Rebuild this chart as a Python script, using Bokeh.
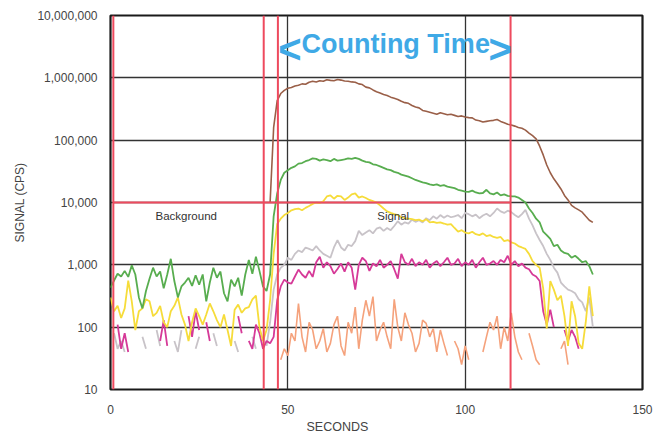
from bokeh.plotting import figure
from bokeh.models import Range1d, FixedTicker, NumeralTickFormatter, Label, Title
from bokeh.embed import file_html
from bokeh.resources import INLINE

nan = float("nan")

# ---------------- data ----------------
x_ticks = [0, 50, 100, 150]
y_ticks = [10, 100, 1000, 10000, 100000, 1000000, 10000000]

marker_seconds = [0.8, 43.2, 47.2, 112.8]   # red time markers
threshold_cps = 10000                       # red horizontal marker

brown_start = 45
brown_cps = [10000, 160000, 430000, 560000, 630000, 680000, 700000, 740000, 760000,
             800000, 790000, 850000, 880000, 860000, 900000, 880000, 930000, 910000, 900000,
             940000, 920000, 890000, 880000, 860000, 850000, 800000, 780000, 710000, 690000,
             640000, 600000, 570000, 540000, 520000, 490000, 470000, 450000, 420000, 400000,
             390000, 360000, 340000, 330000, 300000, 290000, 280000, 270000, 260000, 275000,
             265000, 255000, 260000, 250000, 240000, 245000, 235000, 230000, 228000, 210000,
             205000, 195000, 200000, 205000, 208000, 215000, 200000, 190000, 180000, 175000,
             168000, 160000, 155000, 145000, 130000, 118000, 105000, 80000, 58000, 40000,
             30000, 24000, 20000, 16500, 13000, 11000, 9000, 8200, 7600, 7000,
             6000, 5200, 4800]

green_start = 0
green_cps = [430, 560, 720, 650, 800, 640, 980, 700, 300, 200,
             380, 600, 900, 650, 780, 420, 700, 1250, 550, 300,
             450, 520, 620, 460, 680, 480, 700, 260, 520, 900,
             620, 780, 350, 260, 580, 450, 620, 320, 700, 1200,
             720, 1350, 800, 450, 380, 700, 6000, 14000, 23000, 30000,
             33000, 36000, 38000, 42000, 43000, 46000, 48000, 51000, 50000, 47000,
             49000, 48000, 46000, 50000, 47000, 48000, 49000, 51000, 50000, 52000,
             50000, 47000, 45000, 44000, 41000, 40000, 38000, 36000, 34000, 33000,
             31000, 30000, 28000, 27000, 26000, 24500, 23000, 22000, 21000, 20500,
             19500, 19000, 19500, 18500, 19000, 18000, 17500, 17000, 16000, 15500,
             15000, 14800, 15500, 14500, 14000, 14200, 16000, 14000, 13500, 14500,
             13000, 13500, 12800, 12600, 12500, 12000, 11000, 10000, 8000, 6800,
             5500, 4800, 3400, 3000, 2600, 2000, 2100, 1700, 1550, 1500,
             1300, 1400, 1250, 1100, 1150, 950, 700]

yellow_start = 0
yellow_cps = [300, 180, 220, 140, 200, 560, 260, 90, 180, 200,
              280, 260, 150, 170, 220, 120, 100, 180, 220, 300,
              160, 110, 60, 120, 200, 150, 110, 160, 240, 180,
              130, 100, 160, 90, 50, 190, 230, 170, 200, 210,
              280, 320, 100, 60, 90, 270, 1500, 4500, 5500, 6300,
              6800, 7500, 7800, 8000, 7500, 8200, 8800, 9500, 10000, 9800,
              10500, 12500, 13000, 11500, 12800, 12500, 11000, 12000, 13500, 14000,
              12000, 12500, 11800, 11000, 10500, 10000, 9000, 8000, 7200, 6800,
              6500, 6300, 5800, 5600, 5500, 5400, 5200, 5300, 5000, 5400,
              4800, 4900, 4700, 4800, 4600, 4400, 4500, 3900, 3400, 3600,
              3300, 3200, 3400, 3100, 3000, 3200, 2900, 3000, 2800, 2700,
              2800, 2400, 2500, 2300, 2200, 2000, 1900, 1800, 1500, 1150,
              1000, 900, 420, 95, 550, 400, 270, 320, 150, 50,
              260, 150, 55, 45, 120, 450, 150]

grey_start = 0
grey_cps = [nan, 80, 45, 60, 40, nan, nan, nan, nan, 70,
            45, nan, nan, 90, 50, nan, nan, nan, 60, 40,
            90, nan, nan, nan, 45, 70, nan, nan, nan, 80,
            50, nan, nan, nan, nan, 60, 40, nan, nan, nan,
            70, 45, nan, nan, 50, 120, 400, 700, 900, 1000,
            1300, 1200, 1500, 1700, 1600, 1900, 1800, 1700, 2000, 1700,
            1500, 1400, 1300, 1900, 2500, 1900, 1700, 2100, 2000, 2400,
            3500, 3000, 3300, 3600, 3200, 3800, 4000, 3500, 3900, 3600,
            4200, 5000, 4400, 4800, 4600, 5300, 4900, 5200, 4800, 5600,
            5200, 6000, 5500, 6300, 5700, 6200, 5800, 6000, 6300, 5600,
            6800, 6500, 6000, 6400, 5600, 6200, 6600, 6000, 6800, 8000,
            7200, 6800, 7400, 7000, 6300, 5800, 6500, 7600, 5500, 4300,
            3200, 2500, 2000, 1500, 1200, 900, 750, 520, 450, 400,
            380, 350, 280, 250, 180, 300, 100]

magenta_start = 0
magenta_cps = [nan, nan, 110, 45, 80, 40, nan, nan, nan, nan,
               nan, nan, nan, nan, 60, 130, 50, nan, nan, nan,
               nan, nan, 150, 70, 180, 90, nan, 120, 60, nan,
               nan, nan, nan, nan, nan, nan, 150, 80, nan, 60,
               45, 110, 80, 45, 60, 55, 70, 270, 450, 580,
               520, 500, 650, 840, 700, 620, 800, 640, 1100, 1350,
               900, 1100, 950, 720, 860, 1050, 780, 1100, 900, 400,
               1000, 1300, 1150, 800, 1050, 950, 1200, 900, 1000, 1150,
               850, 600, 1500, 1100, 1000, 1250, 950, 1100, 1000, 1200,
               900, 1050, 1150, 950, 1100, 1300, 1000, 1050, 1250, 950,
               1100, 1000, 1200, 900, 1100, 1300, 1000, 1050, 1150, 1000,
               1200, 1100, 1400, 1000, 1150, 950, 1050, 900, 850, 700,
               650, 550, 180, 110, 190, 100, nan, nan, 90, 60,
               90, 70, 45, nan, nan, nan, nan]

orange_start = 47
orange_cps = [nan, 30, 45, 35, 80, 60, 240, 70, 40, 120,
              90, 45, 60, 95, 40, 55, 110, 150, 50, 35,
              120, 80, 210, 45, 130, 270, 150, 310, 60, 90,
              120, 70, 45, 280, 100, 60, 170, 110, 80, 40,
              55, 130, 115, 70, 95, 40, 90, 55, 35, nan,
              60, 45, 25, 50, 30, nan, nan, nan, 40, 70,
              120, 90, 150, 45, 100, 60, 170, 70, 40, 30,
              nan, 80, 50, 30, 25, nan, nan, nan, nan, nan,
              45, 60, 25, nan]

series = [
    (orange_start, orange_cps, "#f5a27c", 1.6),
    (grey_start, grey_cps, "#c8c3c8", 1.8),
    (magenta_start, magenta_cps, "#d63a98", 1.8),
    (yellow_start, yellow_cps, "#f6dc3a", 1.8),
    (green_start, green_cps, "#58ad4f", 1.8),
    (brown_start, brown_cps, "#9a5f48", 1.6),
]

# ---------------- figure ----------------
p = figure(width=655, height=434, output_backend="svg", toolbar_location=None,
           x_range=Range1d(0, 150), y_range=Range1d(10, 1e7), y_axis_type="log",
           min_border_left=110, min_border_right=13, min_border_top=15,
           min_border_bottom=44, background_fill_color="white",
           border_fill_color="white")

p.xaxis.ticker = FixedTicker(ticks=x_ticks)
p.yaxis.ticker = FixedTicker(ticks=y_ticks)
p.xgrid.ticker = FixedTicker(ticks=x_ticks)
p.ygrid.ticker = FixedTicker(ticks=y_ticks)
p.yaxis.formatter = NumeralTickFormatter(format="0,0")

p.axis.axis_line_color = None
p.axis.major_tick_line_color = None
p.axis.minor_tick_line_color = None
p.axis.major_label_text_font = "Liberation Sans"
p.axis.major_label_text_font_size = "12px"
p.axis.major_label_text_color = "#444444"
p.xaxis.major_label_standoff = 9
p.yaxis.major_label_standoff = 7

p.yaxis.axis_label = "SIGNAL (CPS)"
p.yaxis.axis_label_text_font = "Liberation Sans"
p.yaxis.axis_label_text_font_size = "12px"
p.yaxis.axis_label_text_font_style = "normal"
p.yaxis.axis_label_text_color = "#444444"
p.yaxis.axis_label_standoff = 7

p.grid.grid_line_color = "#333333"
p.grid.grid_line_width = 1.3
p.outline_line_color = "#1a1a1a"
p.outline_line_width = 2.2

for start, vals, color, lw in series:
    xs = list(range(start, start + len(vals)))
    p.line(xs, vals, line_color=color, line_width=lw)

red = "#ee4a5e"
n = len(marker_seconds)
p.segment(x0=marker_seconds, x1=marker_seconds, y0=[10] * n, y1=[1e7] * n,
          line_color=red, line_width=2)
p.segment(x0=[marker_seconds[0]], x1=[marker_seconds[-1]],
          y0=[threshold_cps], y1=[threshold_cps], line_color=red, line_width=2)

blue = "#3fa9e6"
p.add_layout(Label(x=80.4, y=3.5e6, text="Counting Time", text_align="center",
                   text_baseline="alphabetic", text_font="Liberation Sans",
                   text_font_style="bold", text_font_size="27px", text_color=blue))
p.add_layout(Label(x=47.3, y=2.9e6, text="<", text_align="left",
                   text_baseline="alphabetic", text_font="Liberation Sans",
                   text_font_style="bold", text_font_size="40px", text_color=blue))
p.add_layout(Label(x=113.2, y=2.9e6, text=">", text_align="right",
                   text_baseline="alphabetic", text_font="Liberation Sans",
                   text_font_style="bold", text_font_size="40px", text_color=blue))

p.add_layout(Label(x=12.7, y=6100, text="Background", text_align="left",
                   text_baseline="alphabetic", text_font="Liberation Sans",
                   text_font_size="11.5px", text_color="#333333"))
p.add_layout(Label(x=75.2, y=6100, text="Signal", text_align="left",
                   text_baseline="alphabetic", text_font="Liberation Sans",
                   text_font_size="11.5px", text_color="#333333"))

p.add_layout(Title(text="SECONDS", align="left", offset=196,
                   text_font="Liberation Sans", text_font_size="12.5px",
                   text_font_style="normal", text_color="#444444", standoff=2),
             "below")

open("out.html", "w").write(file_html(p, INLINE))
